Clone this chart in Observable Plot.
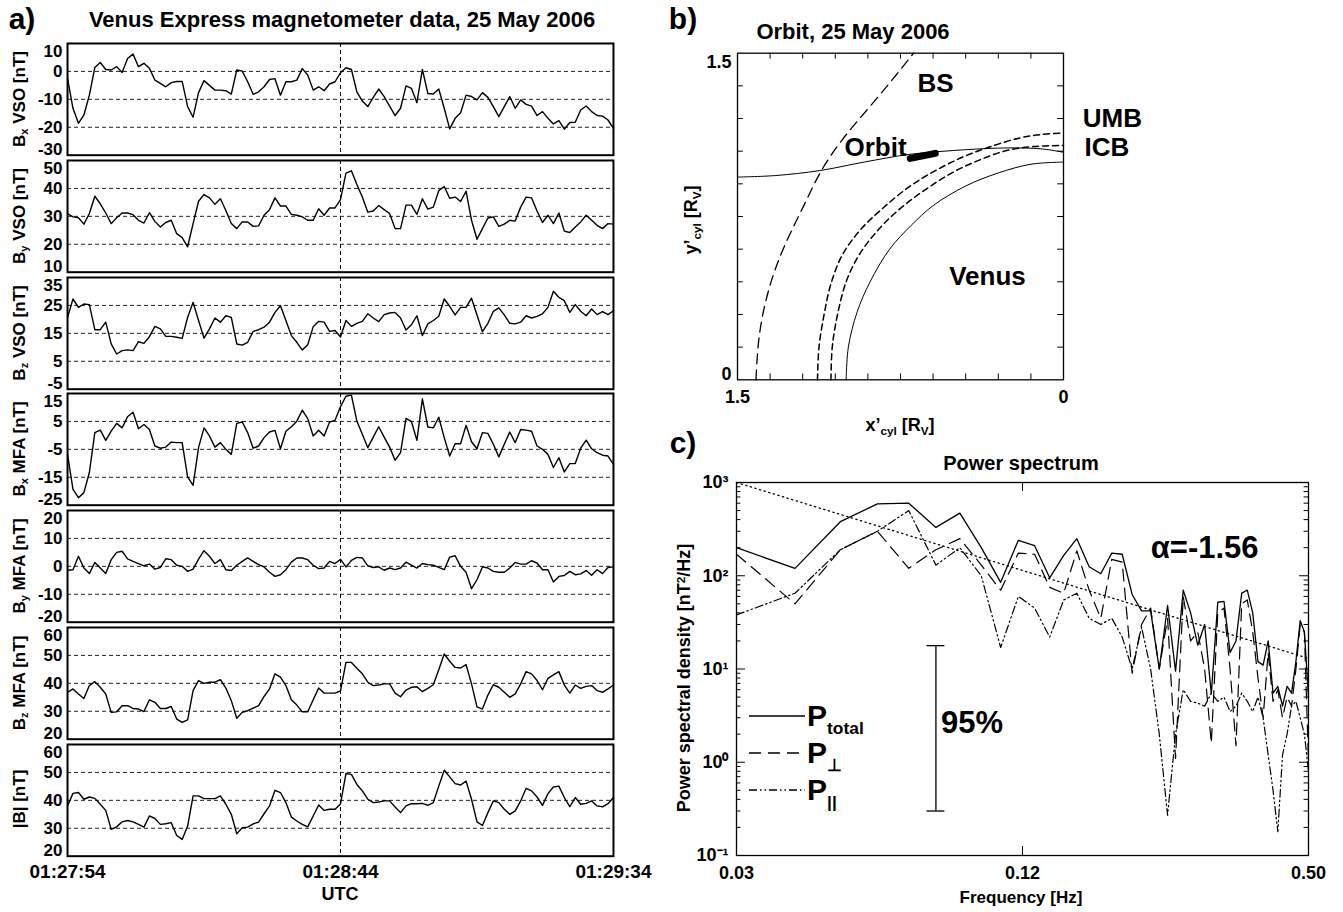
<!DOCTYPE html>
<html><head><meta charset="utf-8">
<script src="https://cdn.jsdelivr.net/npm/d3@7"></script>
<script src="https://cdn.jsdelivr.net/npm/@observablehq/plot@0.6"></script>
<style>
body{margin:0;background:#fff;}
#fig{position:relative;width:1343px;height:912px;overflow:hidden;font-family:"Liberation Sans",Arial,sans-serif;font-weight:bold;color:#000;background:#fff;}
.abs{position:absolute;white-space:nowrap;line-height:1;}
.rot{transform:translate(-50%,-50%) rotate(-90deg);}
.ctr{transform:translate(-50%,-50%);}
.none{transform:none;}
#fig svg{position:absolute;overflow:visible;}
sub{font-size:65%;vertical-align:-0.3em;line-height:0;}
</style></head><body><div id="fig"></div><script>
// ---------------- Panel a data (1 Hz samples, seconds after 01:27:54) ----------------
const seconds = d3.range(0, 101);
const timeTicks = [0, 50, 100];
const timeLabels = ["01:27:54", "01:28:44", "01:29:34"];
const bxVSO = [-2.5,-13.2,-18.6,-15.6,-8.5,1.4,3.2,0.7,0.5,1.7,
 -0.4,4.6,6.2,1.7,2.9,1.1,-3.1,-4.3,-5.5,-4,
 -3.6,-3.6,-12.6,-16.4,-7.6,-3.3,-5,-6.7,-6.7,-6.9,
 -8.1,0.5,0.1,-3.7,-8.2,-7.3,-5.5,-2.9,-2.6,-8.5,
 -3.7,-3.7,-3.1,1,-1.3,-6.7,-5.5,-6.9,-4.5,-3.7,
 -0.5,1.3,0.7,-7.3,-10.6,-12.6,-9.3,-6.3,-9,-12.4,
 -15.8,-13.2,-5.2,-6.1,-11.2,0.7,-7.9,-8.1,-6.3,-13.2,
 -20.6,-16.8,-14.8,-8.5,-9,-10.2,-7.6,-9.3,-12.6,-16.2,
 -12.6,-9,-13.2,-10.2,-11.8,-12.4,-15.8,-14.4,-16.8,-18.8,
 -17.6,-20.7,-18.3,-18.2,-13.8,-12.4,-14.4,-15.8,-16,-17.4,-20.4];
const byVSO = [31,29.8,29.5,27.2,31,37.2,34.5,31.2,27.4,29.5,
 31.2,31.2,30.6,28.6,27.6,31.3,28.2,26.2,27.8,28.6,
 23.8,22.4,19.1,27.4,35.4,37.8,36.6,34.3,36.3,32.1,
 27.4,25.6,28,28,26.4,26.6,30.4,32.4,36.6,33.7,
 33.7,30.7,30.4,29.8,28.6,28.6,32.7,30.4,33,33,
 36,45.5,46.3,41.4,36.9,31.5,31.9,33.9,32.4,31,
 25.6,25.6,34,34,30.7,36.3,32.6,33.3,39.2,40.7,
 36.5,36.9,35.3,39,28.6,21.8,25.6,29.4,29.8,26.4,
 27.2,28.6,28.3,33.3,36.9,36.6,31.9,27.8,30.4,27.4,
 31.2,24.7,24.2,26.2,28,30.4,28.6,26.8,25.6,27.4,27.2];
const bzVSO = [20.7,27.3,24.3,25.5,25.3,16.3,16.3,19,11.2,7.6,
 8.8,9.1,8.8,12,11.4,13.8,17.5,16.6,13.9,13.9,
 13.6,13.2,20.7,26.1,19.6,13.3,16.6,20.5,19,21.3,
 20.7,11.2,10.8,11.8,15.7,16.3,17.2,19,22.5,24.9,
 19.6,14.2,11.8,9,10.9,17.4,19.3,19,15.7,16,
 13.7,19.6,17.5,18.6,19.3,22,20.5,19.2,21.7,22.3,
 22.5,20.5,16.2,18.1,21.3,14.2,18.4,19.6,21.1,27.3,
 24.7,21.6,24.3,24.3,27.6,21.6,15.6,18.6,22.9,24.1,
 21.6,18.6,18.4,19,21.3,20.5,21.1,22,24.3,30.1,
 27.9,26.7,22.5,25.3,22.9,21.3,23.7,21.7,22.8,21.7,23.1];
const bxMFA = [-6.8,-19.3,-22.3,-20.5,-13.3,1,1.9,-1.8,1.5,4.3,
 2.7,6.7,8.3,2.4,3.9,2.1,-3.8,-4.6,-4.2,-2.4,
 -2.6,-2.6,-14.9,-17.9,-4.4,2.7,-0.2,-4.2,-2.6,-5,
 -6.8,4.3,4.8,1,-4.6,-3.8,-0.8,1.2,1.8,-4.8,
 1.5,3.1,5.1,9,6,-0.2,1.8,-0.2,4.8,5.4,
 10.3,14,14.4,5.1,0.4,-4.4,-0.6,3.1,-0.6,-4.2,
 -8.9,-6.2,6.1,4.9,-1.8,13.1,3,2.7,6.5,-0.8,
 -7.4,-3,-3,3.6,-2.3,-4.8,1,0.7,-3.2,-7.7,
 -3.2,1.2,-2.6,2.1,1.9,1.5,-3.8,-5,-6.8,-11.5,
 -8,-13.1,-10.1,-10.1,-4.6,-1.7,-4.8,-6.2,-7.1,-7.4,-10.4];
const byMFA = [-1.4,-1.2,3.6,-0.6,-2.6,1.4,-0.6,-2.6,2.4,5,
 5.4,2.7,1.8,1,0.2,0.8,-1,-0.4,2.7,2.4,
 0.4,0,-1.8,-1,2.6,5.6,3.6,1,2.4,-1.2,
 -1.5,0.4,1.8,3,1.8,0.6,-0.2,-2.1,-3.6,-3,
 -1.2,1.5,3,3,2.4,0.4,-0.8,-0.6,1.8,1,
 2.5,-0.2,2.1,3.2,3,0.2,-0.4,-0.2,-1.4,-0.6,
 -1.2,-0.6,1.5,0.4,-0.6,1,0.6,0.4,-0.4,-1.2,
 3.3,3.8,0,-2.1,-8,-4.8,-0.2,-0.6,-1.8,-2.1,
 -2.1,-0.6,1.4,0.8,0.8,2,1.2,-1.2,-1.2,-5.6,
 -3.6,-3.3,-1.8,-3,-2.7,-1.5,-3.2,-1.2,-2.6,-0.4,-0.2];
const bzMFA = [36.8,38,36.2,34.6,39.2,40.6,38.6,36.2,29.6,29.8,
 32,32,31,30.8,29.9,34.1,33.2,31,31,31.7,
 27.2,26,26.9,37.4,41,40,40.4,40.4,41.3,38.3,
 33.8,27.5,29.6,30.2,31.1,32,35.3,38,43.4,42.2,
 39.2,34.1,32.2,29.8,29.8,34.1,38.3,36.5,36.5,36.5,
 37.3,47.5,47.5,45.4,43.4,40.4,39.2,39.4,39.8,39.8,
 36.5,35.2,37.6,38.6,38.8,37,38.2,39.5,44.9,50.5,
 47.9,45.7,45.5,46.7,39.8,31.6,30.8,35.8,39.5,38.6,
 36.8,35,36.2,39.8,44.2,43.4,41,37.7,41.8,43,
 44.2,39.4,36.5,39.4,38.2,38.9,39.2,37.4,36.8,38,39.4];
const bMag = [38,42.5,42.8,40.4,41.2,40.7,38.6,36.4,29.6,30.5,
 32.3,32.8,32.3,31.4,30.4,34.4,33.5,31.4,31.6,32,
 27.4,26,30.8,41.6,41.6,40.6,40.6,40.6,41.6,38.6,
 35,28,30.2,30.4,31.6,32.2,35.2,38,43.6,42.8,
 39.2,34,32.6,31.4,30.5,34.4,38.3,36.4,36.8,36.8,
 38.7,49.6,49.3,45.7,43.4,40.4,39.2,39.4,39.8,39.8,
 37.6,35.6,38,38.8,38.8,38.9,38.2,39.2,45.1,50.8,
 48.4,46,45.5,46.9,40.4,32.3,31,35.6,39.8,39.2,
 36.8,35,36.2,39.8,44.3,43.4,41.2,38.2,42.4,44.8,
 45.1,41,37.7,41,38.6,38.9,39.8,38,37.7,38.8,41];
const rowSeries = [bxVSO, byVSO, bzVSO, bxMFA, byMFA, bzMFA, bMag];
const rowLabels = ["B<sub>x</sub> VSO [nT]","B<sub>y</sub> VSO [nT]","B<sub>z</sub> VSO [nT]",
  "B<sub>x</sub> MFA [nT]","B<sub>y</sub> MFA [nT]","B<sub>z</sub> MFA [nT]","|B| [nT]"];
const rowDomains = [[-30,10],[10,50],[-5,35],[-25,15],[-20,20],[20,60],[20,60]];
const rowGrid = [[0,-10,-20],[40,30,20],[25,15,5],[5,-5,-15],[10,0,-10],[50,40,30],[50,40,30]];
const markTime = [50];

// ---------------- Panel b data (R_V) ----------------
const venusX = [1.0,0.99,0.95,0.89,0.8,0.7,0.6,0.45,0.3,0.15,0.0];
const venusY = [0.0,0.15,0.31,0.45,0.6,0.71,0.8,0.89,0.95,0.99,1.0];
const icbX = [1.07,1.064,1.039,0.998,0.937,0.855,0.753,0.63,0.507,0.385,0.262,0.139,0.0];
const icbY = [0.0,0.15,0.303,0.456,0.579,0.686,0.785,0.877,0.954,1.01,1.053,1.071,1.076];
const umbX = [1.132,1.125,1.101,1.07,1.019,0.937,0.835,0.712,0.589,0.466,0.344,0.2,0.098,0.0];
const umbY = [0.0,0.15,0.303,0.441,0.571,0.686,0.785,0.885,0.961,1.022,1.068,1.111,1.127,1.133];
const bsX = [1.415,1.40,1.36,1.29,1.195,1.12,1.02,0.895,0.77,0.69];
const bsY = [0.0,0.2,0.4,0.6,0.8,0.95,1.1,1.25,1.4,1.5];
const orbitX = [1.5,1.326,1.121,0.917,0.712,0.507,0.303,0.16,0.078,0.0];
const orbitY = [0.931,0.938,0.961,1.0,1.035,1.053,1.064,1.064,1.058,1.045];
const segX = [0.705,0.59];
const segY = [1.017,1.04];
const bLabelNames = ["BS","UMB","ICB","Orbit","Venus"];
const bLabelX = [0.589,-0.225,-0.2,0.865,0.35];
const bLabelY = [1.362,1.2,1.066,1.066,0.472];
const bTicks = [1.5, 0];
const bTickLabels = ["1.5", "0"];

// ---------------- Panel c data ----------------
const freq = [0.03,0.04,0.05,0.06,0.07,0.08,0.09,0.10,0.11,0.12,0.13,0.14,0.15,0.16,0.17,0.18,0.19,0.20,
  0.21,0.22,0.23,0.24,0.25,0.26,0.27,0.28,0.29,0.30,0.31,0.32,0.33,0.34,0.35,0.36,0.37,0.38,0.39,0.40,
  0.41,0.42,0.43,0.44,0.45,0.46,0.47,0.48,0.49,0.50];
const pTotal = [200,120,380,590,600,330,470,200,85,240,210,95,165,250,125,105,175,170,
  63,42,42,10,48,9.5,70,40,18,30,5.4,52,53,15,20,65,70,40,12,11,
  20,5.5,6.5,4,6.5,5.5,12,33,25,5];
const pPerp = [170,50,190,300,120,190,250,130,70,175,170,75,65,185,70,35,150,140,
  9,30,45,10,35,1.1,60,20,25,10,1.6,40,45,10,1.5,50,55,25,8,3,
  15,4.5,6,3,5,4,10,30,25,1];
const pPar = [38,65,190,300,500,130,200,100,17,60,45,22,55,65,35,30,35,22,
  10,28,10,2,0.27,2,6,4.5,4.3,4,5.5,4.5,5,3.5,4,5.5,4.5,3.5,5,3,
  1.2,0.5,0.18,1.2,2,4,4.5,3,2,0.8];
const fitF = [0.03, 0.5];
const fitP = [1000, 13];
const errF = [0.08];
const errP = [0.3, 17.8];
const alphaLabel = {f: 0.30, p: 196, text: "α=-1.56"};
const pctLabel = {f: 0.08, p: 2.6, text: "95%"};
const yDecades = [0.1, 1, 10, 100, 1000];
const yDecadeLabels = ["10⁻¹", "10⁰", "10¹", "10²", "10³"];
const fTicks = [0.03, 0.1225, 0.5];
const fTickLabels = ["0.03", "0.12", "0.50"];
const legendNames = ["total", "⊥", "||"];
const legendDash = ["none", "12,7", "8,3,1.5,3,1.5,3"];

// ---------------- helpers ----------------
const fig = document.getElementById("fig");
const FONT = "'Liberation Sans', Arial, sans-serif";
function place(el, left, top) { el.style.left = left + "px"; el.style.top = top + "px"; fig.appendChild(el); }
function text(html, x, y, size, cls) {
  const d = document.createElement("div");
  d.className = "abs " + (cls || "ctr");
  d.style.fontSize = size + "px";
  d.innerHTML = html;
  place(d, x, y);
  return d;
}
// labels at the axis ends are nudged inward, as in the reference
function edgeLabels(ticks, lo, hi, opts) {
  const top = ticks.filter(t => t === hi), bot = ticks.filter(t => t === lo), mid = ticks.filter(t => t !== hi && t !== lo);
  return [
    Plot.text(top, {...opts, dy: opts.dyTop}),
    Plot.text(mid, {...opts}),
    Plot.text(bot, {...opts, dy: opts.dyBot})
  ];
}

// ---------------- Panel a ----------------
const rowTop0 = 43.3, rowStep = 116.7, rowH = 111.7;
rowSeries.forEach((vals, i) => {
  const last = i === rowSeries.length - 1;
  const mt = 4, mb = last ? 45 : 4;
  const data = vals.map((v, j) => ({t: seconds[j], v}));
  const tl = Object.fromEntries(timeTicks.map((t, j) => [t, timeLabels[j]]));
  const [lo, hi] = rowDomains[i];
  const ticks = [hi, ...rowGrid[i], lo];
  const svg = Plot.plot({
    width: 625, height: rowH + mt + mb,
    marginLeft: 67, marginRight: 12, marginTop: mt, marginBottom: mb,
    style: {fontFamily: FONT, fontSize: "19px", fontWeight: "bold", background: "transparent", overflow: "visible"},
    x: last ? {domain: [0, 100], ticks: timeTicks, tickFormat: d => tl[d], tickSize: 0, tickPadding: 8, label: null}
            : {domain: [0, 100], axis: null},
    y: {domain: rowDomains[i], axis: null},
    marks: [
      Plot.ruleY(rowGrid[i], {stroke: "#222", strokeWidth: 1, strokeDasharray: "4,3"}),
      Plot.ruleX(markTime, {stroke: "#000", strokeWidth: 1, strokeDasharray: "4,3"}),
      Plot.line(data, {x: "t", y: "v", stroke: "#000", strokeWidth: 1.4}),
      ...edgeLabels(ticks, lo, hi, {y: d => d, text: d => String(d), frameAnchor: "left", dx: -5, textAnchor: "end", fontSize: 17, fontWeight: "bold", fill: "#000", dyTop: 8, dyBot: -6}),
      Plot.frame({stroke: "#000", strokeWidth: 2})
    ]
  });
  place(svg, 0, rowTop0 + i * rowStep - mt);
  text(rowLabels[i], 19, rowTop0 + i * rowStep + rowH / 2, 17, "rot");
});
text("a)", 22, 19, 30);
text("Venus Express magnetometer data, 25 May 2006", 342, 20, 22);
text("UTC", 340, 894, 18);

// ---------------- Panel b ----------------
{
  const line = (xs, ys) => xs.map((x, j) => ({x, y: ys[j]}));
  const minor = d3.range(1, 10).map(k => k * 0.15);
  const labels = bLabelNames.map((n, j) => ({n, x: bLabelX[j], y: bLabelY[j]}));
  const tbl = Object.fromEntries(bTicks.map((t, j) => [t, bTickLabels[j]]));
  const svg = Plot.plot({
    width: 540, height: 420,
    marginLeft: 97, marginRight: 117, marginTop: 52.7, marginBottom: 40.7,
    style: {fontFamily: FONT, fontSize: "18px", fontWeight: "bold", background: "transparent", overflow: "visible"},
    x: {domain: [1.5, 0], ticks: bTicks, tickFormat: d => tbl[d], tickSize: 0, tickPadding: 10, label: null},
    y: {domain: [0, 1.5], axis: null},
    marks: [
      Plot.ruleX(minor, {y1: 0, y2: 0.027, stroke: "#000", strokeWidth: 1}),
      Plot.ruleX(minor, {y1: 1.473, y2: 1.5, stroke: "#000", strokeWidth: 1}),
      Plot.ruleY(minor, {x1: 1.5, x2: 1.473, stroke: "#000", strokeWidth: 1}),
      Plot.ruleY(minor, {x1: 0, x2: 0.027, stroke: "#000", strokeWidth: 1}),
      ...edgeLabels(bTicks, 0, 1.5, {y: d => d, text: d => tbl[d], frameAnchor: "left", dx: -6, textAnchor: "end", fontSize: 18, fontWeight: "bold", fill: "#000", dyTop: 9, dyBot: -6}),
      Plot.line(line(venusX, venusY), {x: "x", y: "y", stroke: "#000", strokeWidth: 1, curve: "catmull-rom"}),
      Plot.line(line(icbX, icbY), {x: "x", y: "y", stroke: "#000", strokeWidth: 1.5, strokeDasharray: "6,4", curve: "catmull-rom"}),
      Plot.line(line(umbX, umbY), {x: "x", y: "y", stroke: "#000", strokeWidth: 1.5, strokeDasharray: "6,4", curve: "catmull-rom"}),
      Plot.line(line(bsX, bsY), {x: "x", y: "y", stroke: "#000", strokeWidth: 1.3, strokeDasharray: "10,6", curve: "natural"}),
      Plot.line(line(orbitX, orbitY), {x: "x", y: "y", stroke: "#000", strokeWidth: 1, curve: "catmull-rom"}),
      Plot.line(line(segX, segY), {x: "x", y: "y", stroke: "#000", strokeWidth: 7}),
      Plot.text(labels, {x: "x", y: "y", text: "n", fontSize: 26, fontWeight: "bold", fill: "#000"}),
      Plot.frame({stroke: "#000", strokeWidth: 1.3})
    ]
  });
  place(svg, 640, 0);
}
text("b)", 683, 19, 30);
text("Orbit, 25 May 2006", 853, 32, 22);
text("y’<sub>cyl</sub> [R<sub>V</sub>]", 691, 220, 18, "rot");
text("x’<sub>cyl</sub> [R<sub>V</sub>]", 900, 425, 18);

// ---------------- Panel c ----------------
{
  const series = (ps) => freq.map((f, j) => ({f, p: ps[j]}));
  const minorY = [];
  yDecades.slice(0, -1).forEach(d => { for (let k = 2; k <= 9; k++) minorY.push(d * k); });
  const yl = Object.fromEntries(yDecades.map((d, j) => [d, yDecadeLabels[j]]));
  const fl = Object.fromEntries(fTicks.map((d, j) => [d, fTickLabels[j]]));
  const svg = Plot.plot({
    width: 700, height: 492,
    marginLeft: 96, marginRight: 32, marginTop: 62, marginBottom: 57,
    style: {fontFamily: FONT, fontSize: "18px", fontWeight: "bold", background: "transparent", overflow: "visible"},
    x: {type: "log", domain: [0.03, 0.5], ticks: fTicks, tickFormat: d => fl[d], tickSize: 0, tickPadding: 11, label: null},
    y: {type: "log", domain: [0.1, 1000], ticks: yDecades, tickFormat: d => yl[d], tickSize: 0, tickPadding: 8, label: null},
    marks: [
      Plot.ruleY(yDecades, {x1: 0.03, x2: 0.03 * 1.045, stroke: "#000"}),
      Plot.ruleY(yDecades, {x1: 0.5 / 1.045, x2: 0.5, stroke: "#000"}),
      Plot.ruleY(minorY, {x1: 0.03, x2: 0.03 * 1.022, stroke: "#000"}),
      Plot.ruleY(minorY, {x1: 0.5 / 1.022, x2: 0.5, stroke: "#000"}),
      Plot.ruleX(fTicks, {y1: 0.1, y2: 0.1 * 1.25, stroke: "#000"}),
      Plot.ruleX(fTicks, {y1: 1000 / 1.25, y2: 1000, stroke: "#000"}),
      Plot.line(fitF.map((f, j) => ({f, p: fitP[j]})), {x: "f", y: "p", stroke: "#000", strokeWidth: 1.3, strokeDasharray: "1.3,3.5"}),
      Plot.line(series(pPar), {x: "f", y: "p", stroke: "#000", strokeWidth: 1.2, strokeDasharray: legendDash[2]}),
      Plot.line(series(pPerp), {x: "f", y: "p", stroke: "#000", strokeWidth: 1.2, strokeDasharray: legendDash[1]}),
      Plot.line(series(pTotal), {x: "f", y: "p", stroke: "#000", strokeWidth: 1.3}),
      Plot.ruleX(errF, {y1: errP[0], y2: errP[1], stroke: "#000", strokeWidth: 1.3}),
      Plot.ruleY(errP, {x1: errF[0] / 1.045, x2: errF[0] * 1.045, stroke: "#000", strokeWidth: 1.3}),
      Plot.text([alphaLabel], {x: "f", y: "p", text: "text", fontSize: 31, fontWeight: "bold", fill: "#000"}),
      Plot.text([pctLabel], {x: "f", y: "p", text: "text", fontSize: 31, fontWeight: "bold", fill: "#000", textAnchor: "start", dx: 5}),
      Plot.frame({stroke: "#000", strokeWidth: 1.3})
    ]
  });
  place(svg, 640, 420);
}
text("c)", 683, 443, 30);
text("Power spectrum", 1021, 463, 20);
text("Power spectral density [nT<sup style='font-size:65%;vertical-align:0.45em;line-height:0'>2</sup>/Hz]", 684, 678, 18, "rot");
text("Frequency [Hz]", 1021, 897, 17);
// legend
legendNames.forEach((n, j) => {
  const y = 716 + j * 37;
  const ns = "http://www.w3.org/2000/svg";
  const s = document.createElementNS(ns, "svg");
  s.setAttribute("width", 56); s.setAttribute("height", 4);
  const l = document.createElementNS(ns, "line");
  l.setAttribute("x1", 0); l.setAttribute("x2", 56); l.setAttribute("y1", 2); l.setAttribute("y2", 2);
  l.setAttribute("stroke", "#000"); l.setAttribute("stroke-width", 1.3);
  if (legendDash[j] !== "none") l.setAttribute("stroke-dasharray", legendDash[j]);
  s.appendChild(l);
  s.style.position = "absolute";
  place(s, 749, y - 2);
  text("P<sub style='font-size:58%;vertical-align:-0.45em'>" + n + "</sub>", 807, y - 15, 30, "none");
});
</script></body></html>
